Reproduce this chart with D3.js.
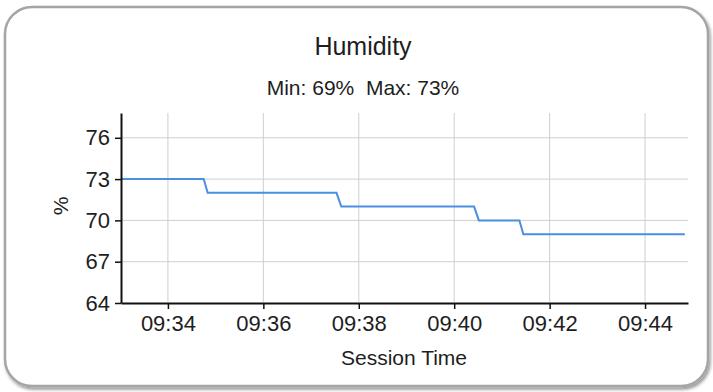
<!DOCTYPE html>
<html>
<head>
<meta charset="utf-8">
<script src="https://cdn.jsdelivr.net/npm/d3@7"></script>
<style>
  body { margin: 0; background: #fff; }
  svg { display: block; font-family: "Liberation Sans", Arial, sans-serif; }
</style>
</head>
<body>
<script>
// humidity readings (step changes)
var times = ["09:33:02", "09:34:45", "09:34:50", "09:37:32", "09:37:38",
             "09:40:25", "09:40:31", "09:41:22", "09:41:27", "09:44:50"];
var humidity = [73, 73, 72, 72, 71, 71, 70, 70, 69, 69];
var yTicks = [64, 67, 70, 73, 76];
var xTickLabels = ["09:34", "09:36", "09:38", "09:40", "09:42", "09:44"];
var xDomain = ["09:33:01", "09:44:54"];
var yDomain = [64, 77.8];

var svgWidth = 713, svgHeight = 392;
var margin = {top: 113, right: 25, bottom: 90, left: 121};
var width = svgWidth - margin.left - margin.right;
var height = svgHeight - margin.top - margin.bottom;

var parseTime = d3.timeParse("%H:%M:%S");
var parseTick = d3.timeParse("%H:%M");

var data = times.map(function(t, i) {
  return {time: parseTime(t), value: humidity[i]};
});

var svg = d3.select("body").append("svg")
  .attr("width", svgWidth)
  .attr("height", svgHeight);

// card frame with a soft shadow
var defs = svg.append("defs");
var shadow = defs.append("filter").attr("id", "shadow")
  .attr("x", "-5%").attr("y", "-5%").attr("width", "110%").attr("height", "110%");
shadow.append("feDropShadow")
  .attr("dx", 1.5).attr("dy", 2.5).attr("stdDeviation", 1.5)
  .attr("flood-color", "#000").attr("flood-opacity", 0.4);

svg.append("rect")
  .attr("x", 5).attr("y", 7)
  .attr("width", 703).attr("height", 379)
  .attr("rx", 27).attr("ry", 27)
  .attr("fill", "#fff")
  .attr("stroke", "#a5a5a5")
  .attr("stroke-width", 2.5)
  .attr("filter", "url(#shadow)");

// titles
svg.append("text")
  .attr("x", 363).attr("y", 55)
  .attr("text-anchor", "middle")
  .attr("font-size", "25px")
  .attr("fill", "#1e1e1e")
  .text("Humidity");

svg.append("text")
  .attr("x", 363).attr("y", 95)
  .attr("text-anchor", "middle")
  .attr("font-size", "21px")
  .attr("fill", "#1e1e1e")
  .style("white-space", "pre")
  .text("Min: 69%  Max: 73%");

var chart = svg.append("g")
  .attr("transform", "translate(" + margin.left + "," + margin.top + ")");

var x = d3.scaleTime()
  .domain(xDomain.map(parseTime))
  .range([0, width]);
var y = d3.scaleLinear()
  .domain(yDomain)
  .range([height + 1, 0]);

var xTickValues = xTickLabels.map(parseTick);

// grid lines
chart.append("g").selectAll("line")
  .data(xTickValues)
  .enter().append("line")
  .attr("x1", function(d) { return x(d); })
  .attr("x2", function(d) { return x(d); })
  .attr("y1", 0).attr("y2", height)
  .attr("stroke", "#cfcfcf").attr("stroke-width", 1);

chart.append("g").selectAll("line")
  .data(yTicks.slice(1))
  .enter().append("line")
  .attr("x1", 0).attr("x2", width)
  .attr("y1", function(d) { return y(d); })
  .attr("y2", function(d) { return y(d); })
  .attr("stroke", "#cfcfcf").attr("stroke-width", 1);

// the line
var line = d3.line()
  .x(function(d) { return x(d.time); })
  .y(function(d) { return y(d.value); });

chart.append("path")
  .datum(data)
  .attr("fill", "none")
  .attr("stroke", "#4a8fe0")
  .attr("stroke-width", 2)
  .attr("d", line);

// axes
var bottomAxis = d3.axisBottom(x)
  .tickValues(xTickValues)
  .tickFormat(d3.timeFormat("%H:%M"))
  .tickSizeInner(6).tickSizeOuter(0).tickPadding(6);
var leftAxis = d3.axisLeft(y)
  .tickValues(yTicks)
  .tickSizeInner(6).tickSizeOuter(0).tickPadding(5);

var gx = chart.append("g")
  .attr("transform", "translate(0," + (height + 1) + ")")
  .call(bottomAxis);
var gy = chart.append("g").call(leftAxis);

[gx, gy].forEach(function(g) {
  g.select(".domain").attr("stroke", "#111").attr("stroke-width", 2);
  g.selectAll(".tick line").attr("stroke", "#111").attr("stroke-width", 1.5);
  g.selectAll(".tick text")
    .attr("font-size", "22px")
    .attr("font-family", "Liberation Sans, Arial, sans-serif")
    .attr("fill", "#1e1e1e");
});

// axis titles
svg.append("text")
  .attr("x", 404).attr("y", 365)
  .attr("text-anchor", "middle")
  .attr("font-size", "21px")
  .attr("fill", "#1e1e1e")
  .text("Session Time");

svg.append("text")
  .attr("transform", "translate(68,206) rotate(-90)")
  .attr("text-anchor", "middle")
  .attr("font-size", "21px")
  .attr("fill", "#1e1e1e")
  .text("%");
</script>
</body>
</html>
